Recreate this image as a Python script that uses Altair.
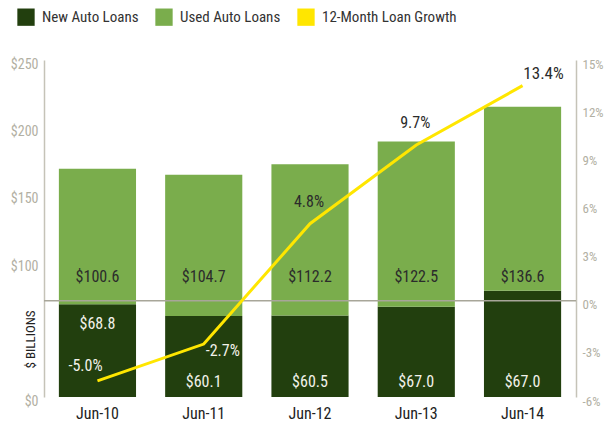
import altair as alt
import pandas as pd

months = ["Jun-10", "Jun-11", "Jun-12", "Jun-13", "Jun-14"]
new_heights = [68.8, 60.1, 60.5, 67.0, 78.8]
used_heights = [100.6, 104.7, 112.2, 122.5, 136.6]
new_label_values = [68.8, 60.1, 60.5, 67.0, 67.0]
used_label_values = [100.6, 104.7, 112.2, 122.5, 136.6]
growth = [-5.0, -2.7, 4.8, 9.7, 13.4]
series = ["New Auto Loans", "Used Auto Loans", "12-Month Loan Growth"]
colors = ["#223F0E", "#7AAD4C", "#FFE600"]

FONT = "Roboto Condensed, Liberation Sans Narrow, Roboto, sans-serif"

bars_df = pd.DataFrame(
    [{"month": m, "series": series[0], "value": v, "order": 0} for m, v in zip(months, new_heights)]
    + [{"month": m, "series": series[1], "value": v, "order": 1} for m, v in zip(months, used_heights)]
)
labels_df = pd.DataFrame({
    "month": months,
    "new_text": [f"${v:.1f}" for v in new_label_values],
    "used_text": [f"${v:.1f}" for v in used_label_values],
})
line_df = pd.DataFrame({
    "month": months,
    "growth": growth,
    "gtext": [f"{g:.1f}%" for g in growth],
})
zero_df = pd.DataFrame({"z": [0]})

x_enc = alt.X(
    "month:N",
    sort=months,
    scale=alt.Scale(paddingInner=0.274, paddingOuter=0.14),
    axis=alt.Axis(title=None, domain=False, ticks=False, labelAngle=0, labelColor="#222222",
                  labelFontSize=16, labelPadding=8, labelFont=FONT),
)

left_scale = alt.Scale(domain=[0, 250], nice=False, zero=True)
left_axis = alt.Axis(
    title="$ BILLIONS", values=[0, 100, 150, 200, 250], labelExpr="'$' + datum.label",
    grid=False, ticks=False, domainColor="#C5C3B8", domainWidth=1.5,
    labelColor="#B2B0A3", labelFontSize=14, labelPadding=6, labelOffset=4, labelFont=FONT,
    titleAngle=270, titleX=-14, titleY=279, titleAlign="center", titleBaseline="middle",
    titleColor="#222222", titleFontSize=13, titleFontWeight="normal", titleFont=FONT,
)
right_scale = alt.Scale(domain=[-6, 15], nice=False, zero=False)
right_axis = alt.Axis(
    title=None, orient="right", values=[-6, -3, 0, 3, 6, 9, 12, 15],
    labelExpr="toString(datum.value) + '%'",
    grid=False, ticks=False, domainColor="#C5C3B8", domainWidth=1.5,
    labelColor="#B2B0A3", labelFontSize=13, labelPadding=6, labelOffset=4, labelFont=FONT,
)

bars = alt.Chart(bars_df).mark_bar().encode(
    x=x_enc,
    y=alt.Y("value:Q", stack="zero", scale=left_scale, axis=left_axis),
    color=alt.Color(
        "series:N",
        scale=alt.Scale(domain=series, range=colors),
        legend=alt.Legend(
            title=None, orient="none", legendX=-27, legendY=-52, direction="horizontal",
            columns=3, symbolType="square", symbolSize=300, symbolStrokeWidth=0,
            labelFontSize=15, labelColor="#333333", labelFont=FONT, labelOffset=7,
            labelLimit=300, columnPadding=16, padding=0,
        ),
    ),
    order=alt.Order("order:Q"),
)

used_text = alt.Chart(labels_df).transform_calculate(ly="89").mark_text(
    fontSize=16, color="#2B2B2B", font=FONT, baseline="middle"
).encode(
    x=x_enc,
    y=alt.Y("ly:Q", scale=left_scale, axis=left_axis),
    text="used_text:N",
)

new_text = alt.Chart(labels_df).transform_calculate(
    ly="datum.month == 'Jun-10' ? 54 : 11"
).mark_text(fontSize=16, color="#F2F2EA", font=FONT, baseline="middle").encode(
    x=x_enc,
    y=alt.Y("ly:Q", scale=left_scale, axis=left_axis),
    text="new_text:N",
)

left = alt.layer(bars, used_text, new_text)

rule = alt.Chart(zero_df).mark_rule(color="#A8A699", strokeWidth=1.5).encode(
    y=alt.Y("z:Q", scale=right_scale, axis=right_axis),
)

line = alt.Chart(line_df).mark_line(color="#FFE600", strokeWidth=3).encode(
    x=x_enc,
    y=alt.Y("growth:Q", scale=right_scale, axis=right_axis),
)


def gtext(months_sel, dx, dy, color, size=16):
    return alt.Chart(line_df).transform_filter(
        alt.FieldOneOfPredicate(field="month", oneOf=months_sel)
    ).mark_text(dx=dx, dy=dy, fontSize=size, color=color, font=FONT, baseline="middle").encode(
        x=x_enc,
        y=alt.Y("growth:Q", scale=right_scale, axis=right_axis),
        text="gtext:N",
    )


t_above = gtext(["Jun-12", "Jun-13"], -1, -22, "#2B2B2B")
t_last = gtext(["Jun-14"], 21, -12, "#2B2B2B", 17)
t_first = gtext(["Jun-10"], -12, -15, "#F2F2EA")
t_second = gtext(["Jun-11"], 19, 7, "#F2F2EA")

right = alt.layer(rule, line, t_above, t_last, t_first, t_second)

chart = alt.layer(left, right).resolve_scale(y="independent").properties(
    width=532, height=337,
    autosize=alt.AutoSizeParams(type="none"),
    padding={"left": 36, "top": 52, "right": 29, "bottom": 30},
    background="white",
).configure_view(stroke=None)

chart.save("out.html", embed_options={"renderer": "svg", "actions": False})
